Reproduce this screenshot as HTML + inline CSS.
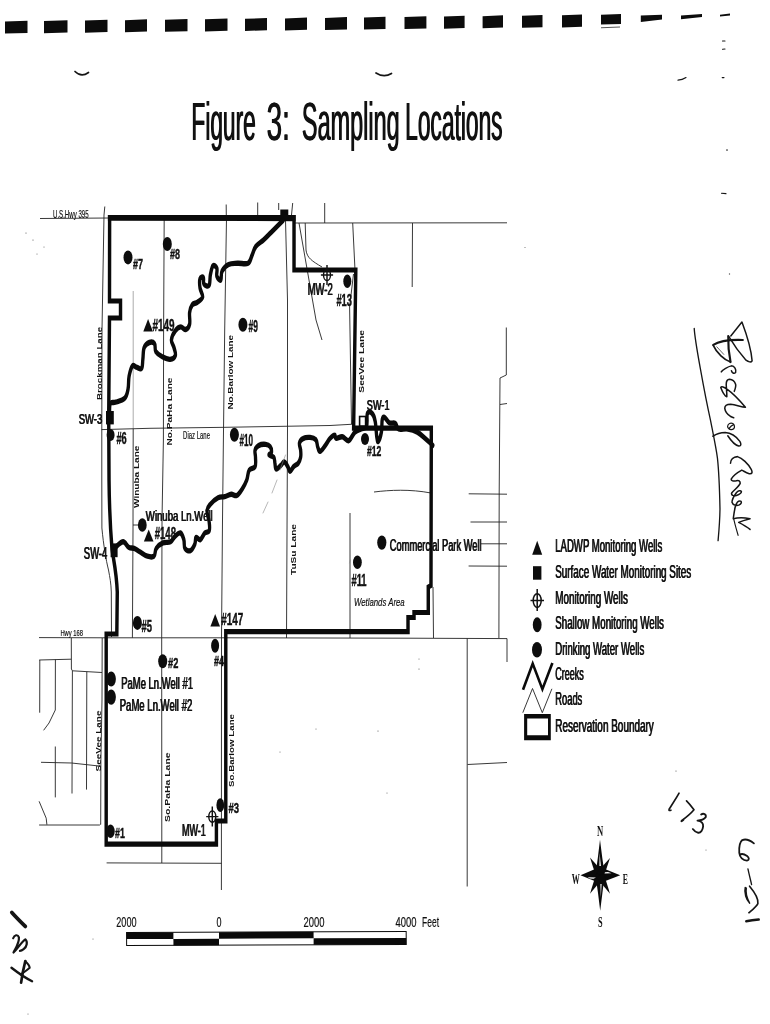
<!DOCTYPE html>
<html>
<head>
<meta charset="utf-8">
<title>Figure 3: Sampling Locations</title>
<style>
  html, body { margin: 0; padding: 0; background: #ffffff; }
  body { width: 770px; height: 1024px; overflow: hidden; font-family: "Liberation Sans", sans-serif; }
  svg { display: block; position: absolute; left: 0; top: 0; filter: grayscale(100%); }
  text { font-family: "Liberation Sans", sans-serif; fill: #111; }
  .ser { font-family: "Liberation Serif", serif; }
  .road { stroke: #222; stroke-width: 0.9; fill: none; }
  .faint { stroke: #777; stroke-width: 0.7; fill: none; }
  .bnd { stroke: #0a0a0a; stroke-width: 3.6; fill: none; stroke-linejoin: miter; }
  .creek { stroke: #0a0a0a; stroke-width: 5.4; fill: none; stroke-linejoin: round; stroke-linecap: round; }
  .hand { stroke: #151515; fill: none; stroke-linecap: round; stroke-linejoin: round; }
  .well { fill: #0d0d0d; }
  .lbl { font-weight: bold; stroke: #111; stroke-width: 0.45; }
  .lbn { stroke: #111; stroke-width: 0.2; }
  .rot { font-weight: bold; }
  .lbs { stroke: #111; stroke-width: 0.2; }
  .leg { stroke: #111; stroke-width: 0.15; }
</style>
</head>
<body>
<svg width="770" height="1024" viewBox="0 0 770 1024">
<rect x="0" y="0" width="770" height="1024" fill="#ffffff"/>

<!-- ===== top punched-dash strip ===== -->
<g id="dashes" fill="#0c0c0c">
  <path d="M5.0,21.5 L27.5,20.7 L27.5,33.0 L5.0,33.6 Z"/>
  <path d="M44.0,21.1 L67.5,20.2 L67.5,32.5 L44.0,33.2 Z"/>
  <path d="M85.0,20.6 L107.5,19.8 L107.5,32.1 L85.0,32.7 Z"/>
  <path d="M125.0,20.2 L147.0,19.3 L147.0,31.6 L125.0,32.3 Z"/>
  <path d="M165.0,19.7 L187.5,18.9 L187.5,31.2 L165.0,31.8 Z"/>
  <path d="M205.0,19.3 L227.5,18.4 L227.5,30.7 L205.0,31.4 Z"/>
  <path d="M245.0,18.8 L267.0,18.0 L267.0,30.3 L245.0,30.9 Z"/>
  <path d="M285.0,18.4 L307.0,17.5 L307.0,29.8 L285.0,30.5 Z"/>
  <path d="M325.0,17.9 L347.0,17.1 L347.0,29.4 L325.0,30.0 Z"/>
  <path d="M364.0,17.5 L385.5,16.7 L385.5,29.0 L364.0,29.6 Z"/>
  <path d="M404.5,17.0 L426.4,16.2 L426.4,28.5 L404.5,29.1 Z"/>
  <path d="M444.0,16.6 L464.6,15.8 L464.6,28.1 L444.0,28.7 Z"/>
  <path d="M482.6,16.2 L503.0,15.3 L503.0,27.6 L482.6,28.3 Z"/>
  <path d="M522.0,15.7 L542.5,14.9 L542.5,27.2 L522.0,27.8 Z"/>
  <path d="M562.0,15.3 L582.0,14.5 L582.0,26.8 L562.0,27.4 Z"/>
  <path d="M601.0,14.8 L621.0,14.0 L621.0,24.0 L601.0,24.6 Z"/>
  <path d="M640.8,15.6 L662,14.8 L662,19.5 L640.8,22 Z"/>
  <path d="M681,15.4 L702,14 L702,17 L681,19.2 Z"/>
  <path d="M720,14.8 L730,13.6 L730,15.4 L720,16.4 Z"/>
  <path d="M601,27.2 L620,26.6 L620,27.4 L601,28.2 Z" fill="#555"/>
</g>

<!-- ===== title ===== -->
<text class="ttl" x="191.00" y="140.4" font-size="53" textLength="64.4" lengthAdjust="spacingAndGlyphs">Figure</text>
<text class="ttl" x="191.75" y="140.4" font-size="53" textLength="64.4" lengthAdjust="spacingAndGlyphs">Figure</text>
<text class="ttl" x="266.20" y="140.4" font-size="53" textLength="23.2" lengthAdjust="spacingAndGlyphs">3:</text>
<text class="ttl" x="266.95" y="140.4" font-size="53" textLength="23.2" lengthAdjust="spacingAndGlyphs">3:</text>
<text class="ttl" x="301.60" y="140.4" font-size="53" textLength="97.6" lengthAdjust="spacingAndGlyphs">Sampling</text>
<text class="ttl" x="302.35" y="140.4" font-size="53" textLength="97.6" lengthAdjust="spacingAndGlyphs">Sampling</text>
<text class="ttl" x="404.80" y="140.4" font-size="53" textLength="97.4" lengthAdjust="spacingAndGlyphs">Locations</text>
<text class="ttl" x="405.55" y="140.4" font-size="53" textLength="97.4" lengthAdjust="spacingAndGlyphs">Locations</text>

<!-- MAPSTART -->
<!-- ===== thin roads ===== -->
<g id="roads" class="road">
  <!-- US Hwy 395 -->
  <path d="M40,218.5 L109,218"/>
  <path d="M295,223 L507,222.8"/>
  <!-- Brockman Lane / west road -->
  <path d="M104.8,206.5 L104,215 L102,330 L101.8,430 L101.8,480 L101.9,528 C103.5,545 106,560 108.5,570 C110,578 111,583 111.3,592 L111.5,637"/>
  <!-- stubs above hwy -->
  <path d="M257.7,202.5 L257.7,215"/>
  <path d="M226.2,204.5 L226.3,217"/>
  <path d="M278.7,203 L278.7,210"/>
  <path d="M292.7,203 L291.5,215"/>
  <path d="M324.7,203 L324.7,223"/>
  <!-- PaHa -->
  <path d="M164.2,218 L163.6,330 L163.4,440 L162,520 L161.7,637.8 L161.8,863"/>
  <!-- Winuba -->
  <path d="M133.2,291 L133.2,429" stroke="#888" stroke-width="0.7"/>
  <path d="M133.2,429 L133,530 L132.4,637.8"/>
  <path d="M133,525 L142,525"/>
  <!-- Barlow -->
  <path d="M226.5,218 L224.7,330 L223.4,440 L222.5,520 L221.5,637"/>
  <path d="M221.5,637 L221.4,890"/>
  <!-- TuSu -->
  <path d="M285.5,220 L287.5,300 L287.5,430 L286.5,638"/>
  <!-- Diaz Lane -->
  <path d="M101.5,429.6 L150,428.3 L226,427.3 L330,425.5 L353,424.2"/>
  <!-- east of notch -->
  <path d="M299,223 L316,320 L322,340"/>
  <path d="M305.2,223 L306,250 C307,258 312,261 322,267"/>
  <path d="M352.7,223 L355,270"/>
  <path d="M353.5,274 L349.6,307 L351.5,424"/>
  <path d="M412.5,223 L412.2,287"/>
  <!-- far east -->
  <path d="M506.3,327.5 L506.3,375 L500,378 L499.2,493 L498.9,638"/>
  <path d="M500,404.5 L507,403.5"/>
  <path d="M468.7,493.8 L507,494.2"/>
  <path d="M470.5,522 L507,522"/>
  <path d="M481,543.8 L507,543.8"/>
  <path d="M468.6,566 L507,566.2"/>
  <path d="M374,492 C390,490 410,489 431,493"/>
  <path d="M350,513 L350,638"/>
  <path d="M433,587 L433.5,638"/>
  <!-- Hwy 168 -->
  <path d="M39,637.6 L106,637.8 L226,637.8 L408,638.2 L507,638.6"/>
  <path d="M467.2,638.5 L467.2,886.5"/>
  <path d="M507,638.6 L507,662"/>
  <path d="M467.5,764.5 L507,762.5"/>
  <!-- south-west streets -->
  <path d="M102.2,638 L102,700 L100.9,760 L100.7,824.5"/>
  <path d="M71.3,638 L71.4,669 L72.4,670.8 L72,793.5"/>
  <path d="M39.2,660 L71.2,659.2"/>
  <path d="M39.8,660 L39.7,712.7"/>
  <path d="M55.4,659.6 L55.3,710 L49,723 L43.6,730.3"/>
  <path d="M55.3,746.5 L55.3,797.4"/>
  <path d="M72.4,670.8 L102,672.5"/>
  <path d="M86.8,671.8 L86.5,789.6"/>
  <path d="M41,762.3 L71.6,763 L100.6,766.2"/>
  <path d="M39.1,825 L99.5,825 L100.7,824"/>
  <path d="M39.1,801.3 L46.2,818.2 L46.9,824.7"/>
  <path d="M106.6,862.9 L221.5,863.3"/>
</g>

<g id="boundary">
<path d="M166.1,217.5 L445.5,217.5 L445.5,270.0 L539.1,270.0 L535.8,428.2 L653.5,428.2 L653.0,585.5 L648.9,587.0 L648.9,612.5 L627.3,612.5 L627.3,617.5 L618.2,617.5 L618.2,631.7 L342.1,631.7 L342.1,821.0 L327.9,821.0 L327.9,844.2 L160.9,844.2 L160.9,634.0 L177.0,634.0 L177.7,592.0 C176.5,572.0 172.0,560.0 169.7,549.0 C166.7,525.0 165.5,500.0 165.2,480.0 L164.7,416.0 L165.9,318.0 L182.6,318.0 L182.6,301.0 L165.9,301.0 Z" transform="scale(0.66,1)" stroke="#0a0a0a" stroke-width="5.2" fill="none" stroke-linejoin="miter"/>
<path d="M107.9,215.1 L295.5,215.1 L295.5,221.2 L107.9,220.7 Z" fill="#0a0a0a"/>
<rect x="280.3" y="209.5" width="8" height="9" fill="#0a0a0a"/>
</g>

<g id="creeks" transform="scale(0.62,1)">
<path class="creek" d="M456.6,220.4 C453.2,222.5 443.4,228.6 437.8,232.1 C432.1,235.6 429.7,237.3 425.2,239.9 C420.7,242.4 416.0,243.6 412.7,246.4 C409.3,249.2 408.6,252.4 406.4,255.5 C404.1,258.5 404.2,261.8 400.1,263.2 C395.9,264.6 389.0,263.0 383.3,263.2 C377.7,263.5 373.2,263.1 368.7,264.5 C364.1,265.9 360.5,268.2 358.2,271.0 C355.9,273.8 357.6,279.2 356.1,280.1 C354.6,281.1 350.9,278.3 349.8,276.2 C348.7,274.1 350.9,270.3 349.8,268.4 C348.7,266.6 345.4,264.7 343.5,265.8 C341.6,267.0 340.5,271.4 339.3,274.9 C338.2,278.4 339.1,283.7 337.2,285.3 C335.4,287.0 330.5,285.4 328.9,284.0 C327.2,282.6 329.2,278.5 328.0,277.5 C326.9,276.6 323.6,277.0 322.6,278.8 C321.6,280.7 321.8,284.6 322.6,287.9 C323.3,291.2 327.5,294.4 326.8,297.0 C326.0,299.6 321.4,300.8 318.4,302.2 C315.4,303.6 312.3,302.9 310.0,304.8 C307.8,306.7 306.6,309.1 305.8,312.6 C305.1,316.1 307.0,321.2 305.8,324.3 C304.7,327.3 302.2,329.0 299.5,329.5 C296.9,329.9 294.2,326.6 291.2,326.9 C288.1,327.1 285.4,328.4 282.8,330.8 C280.1,333.1 276.9,336.8 276.5,339.9 C276.1,342.9 279.6,344.9 280.7,347.7 C281.8,350.5 283.9,353.4 282.8,355.5 C281.7,357.6 278.2,359.1 274.4,359.4 C270.6,359.6 266.0,358.2 261.8,356.8 C257.7,355.4 253.6,353.9 251.4,351.6 C249.1,349.2 251.2,345.4 249.3,343.8 C247.4,342.1 243.9,341.8 240.9,342.5 C237.9,343.2 234.4,344.6 232.5,347.7 C230.6,350.7 231.2,355.6 230.4,359.4 C229.7,363.1 230.2,367.0 228.3,368.4 C226.4,369.8 222.6,367.6 219.9,367.1 C217.3,366.7 215.8,364.2 213.7,365.8 C211.5,367.5 209.5,372.0 208.2,376.2 C206.9,380.4 207.8,385.2 206.5,389.2 C205.3,393.2 204.7,396.0 201.1,398.3 C197.5,400.6 190.6,401.3 186.4,402.2 C182.3,403.1 179.8,401.6 178.0,403.5 C176.3,405.4 176.9,411.3 176.6,413.0"/>
<path class="creek" d="M186.1,547.3 C188.4,546.3 194.7,541.8 198.6,541.8 C202.4,541.8 204.3,546.1 207.5,547.3 C210.7,548.5 213.2,547.6 216.4,548.4 C219.6,549.2 221.4,550.4 225.3,551.7 C229.1,553.1 233.6,555.4 237.7,556.2 C241.9,557.0 245.9,557.5 248.4,556.2 C251.0,554.8 249.4,550.8 252.0,548.4 C254.5,546.0 258.5,544.1 262.7,542.9 C266.8,541.7 271.6,543.0 275.1,541.8 C278.6,540.6 279.4,537.9 282.2,536.3 C285.1,534.7 288.6,532.4 291.1,533.0 C293.7,533.6 295.2,536.8 296.5,539.6 C297.8,542.4 296.3,546.4 298.3,548.4 C300.2,550.4 304.3,551.4 307.2,550.6 C310.0,549.8 312.7,546.4 314.3,544.0 C315.9,541.6 314.5,538.2 316.1,537.4 C317.7,536.6 320.6,540.4 323.2,539.6 C325.7,538.8 327.7,534.6 330.3,533.0 C332.9,531.4 336.1,532.8 337.4,530.8 C338.7,528.8 338.1,525.5 337.4,521.9 C336.8,518.4 333.5,514.1 333.9,510.9 C334.2,507.7 336.0,506.7 339.2,504.3 C342.4,501.9 347.5,499.1 351.7,497.7 C355.8,496.3 358.5,497.2 362.4,496.6 C366.2,496.0 369.5,494.5 373.0,494.3 C376.6,494.2 378.7,496.4 381.9,495.5 C385.1,494.5 388.0,491.6 390.8,488.8 C393.7,486.0 396.0,483.4 398.0,480.0 C400.0,476.6 399.5,472.5 402.0,470.1 C404.4,467.7 409.6,468.9 411.4,466.6 C413.2,464.3 412.1,460.2 412.1,457.3 C412.1,454.3 410.5,452.4 411.4,450.3 C412.3,448.2 414.0,446.6 417.0,445.6 C420.1,444.5 425.0,444.2 428.4,444.4 C431.8,444.6 434.2,445.3 435.9,446.8 C437.6,448.2 438.1,451.1 437.8,452.6 C437.4,454.1 433.3,454.1 434.0,454.9 C434.7,455.8 439.9,455.8 441.6,457.3 C443.3,458.7 442.8,461.0 443.4,463.1 C444.1,465.2 443.6,468.5 445.3,469.0 C447.0,469.4 450.5,466.7 452.9,465.5 C455.2,464.2 456.5,461.7 458.5,461.9 C460.6,462.2 462.5,464.9 464.2,466.6 C465.9,468.3 466.2,471.3 467.9,471.3 C469.6,471.3 471.2,468.1 473.6,466.6 C476.0,465.1 479.1,464.8 481.1,463.1 C483.2,461.4 484.2,459.6 484.9,457.3 C485.6,455.0 485.3,452.8 484.9,450.3 C484.6,447.7 482.3,445.3 483.0,443.2 C483.7,441.1 485.6,439.6 488.7,438.6 C491.7,437.5 496.3,437.2 500.0,437.4 C503.7,437.6 507.2,438.1 509.4,439.7 C511.7,441.4 511.2,444.6 512.4,446.8 C513.7,448.9 514.0,451.6 516.2,451.4 C518.4,451.2 521.6,447.9 524.5,445.6 C527.3,443.3 529.3,440.5 532.0,438.6 C534.8,436.7 537.7,435.1 539.6,435.1 C541.4,435.0 540.0,438.0 542.3,438.3 C544.6,438.6 548.7,436.3 552.4,436.8 C556.0,437.2 558.8,441.5 562.4,440.6 C566.0,439.8 568.9,434.2 572.5,432.1 C576.1,430.0 579.1,430.1 582.5,429.0 C585.9,427.8 589.5,428.6 591.3,425.8 C593.1,423.0 591.0,415.6 592.6,413.4 C594.2,411.1 597.9,412.0 600.1,413.4 C602.4,414.8 603.8,417.0 605.1,421.2 C606.5,425.4 606.8,433.1 607.7,436.8 C608.6,440.4 608.8,442.3 610.2,441.4 C611.5,440.6 614.1,436.0 615.2,432.1 C616.3,428.1 615.6,422.3 616.5,419.6 C617.4,416.9 618.2,416.7 620.2,417.3 C622.3,417.8 624.6,421.6 627.8,422.7 C630.9,423.8 635.1,422.4 637.8,423.5 C640.5,424.6 639.2,428.0 642.9,429.0 C646.5,429.9 652.5,428.4 657.9,429.0 C663.4,429.5 668.0,430.4 673.0,432.1 C678.0,433.8 681.1,435.9 685.6,438.3 C690.1,440.7 695.9,444.1 698.1,445.3"/>
</g>

<g id="wells">
<ellipse class="well" cx="128.0" cy="257.4" rx="4.5" ry="7.0"/>
<text class="lbl" x="133.0" y="269.0" font-size="15.4" textLength="10.0" lengthAdjust="spacingAndGlyphs">#7</text>
<ellipse class="well" cx="167.3" cy="244.0" rx="4.5" ry="7.0"/>
<text class="lbl" x="170.0" y="259.0" font-size="15.4" textLength="10.0" lengthAdjust="spacingAndGlyphs">#8</text>
<path class="well" d="M148.1,319.0 L152.9,331.5 L143.3,331.5 Z"/>
<text class="lbl" x="152.5" y="330.7" font-size="16.3" textLength="22.1" lengthAdjust="spacingAndGlyphs">#149</text>
<ellipse class="well" cx="242.9" cy="324.8" rx="4.5" ry="7.0"/>
<text class="lbl" x="248.6" y="331.6" font-size="15.6" textLength="9.4" lengthAdjust="spacingAndGlyphs">#9</text>
<g stroke="#111" stroke-width="1.45" fill="none"><ellipse cx="327.0" cy="275.0" rx="3.5" ry="5.6"/><path d="M320.9,275.0 L333.1,275.0 M327.0,265.0 L327.0,285.0"/></g>
<text class="lbn" x="307.5" y="294.7" font-size="15.6" textLength="25.0" lengthAdjust="spacingAndGlyphs">MW-2</text>
<text class="lbn" x="308.00" y="294.7" font-size="15.6" textLength="25.0" lengthAdjust="spacingAndGlyphs">MW-2</text>
<ellipse class="well" cx="347.3" cy="281.2" rx="4.0" ry="6.8"/>
<text class="lbl" x="336.4" y="306.0" font-size="16.2" textLength="15.6" lengthAdjust="spacingAndGlyphs">#13</text>
<rect x="359.6" y="416.5" width="6" height="9.5" fill="#fff" stroke="#0a0a0a" stroke-width="1.6"/>
<text class="lbn" x="366.6" y="410.3" font-size="15.4" textLength="22.6" lengthAdjust="spacingAndGlyphs">SW-1</text>
<text class="lbn" x="367.10" y="410.3" font-size="15.4" textLength="22.6" lengthAdjust="spacingAndGlyphs">SW-1</text>
<ellipse class="well" cx="365.0" cy="439.0" rx="4.0" ry="6.0"/>
<text class="lbl" x="367.0" y="455.5" font-size="15.4" textLength="14.4" lengthAdjust="spacingAndGlyphs">#12</text>
<rect x="106" y="411" width="7.8" height="13.4" fill="#0a0a0a"/>
<text class="lbn" x="78.4" y="424.4" font-size="15.2" textLength="23.6" lengthAdjust="spacingAndGlyphs">SW-3</text>
<text class="lbn" x="78.90" y="424.4" font-size="15.2" textLength="23.6" lengthAdjust="spacingAndGlyphs">SW-3</text>
<ellipse class="well" cx="110.6" cy="434.9" rx="4.0" ry="6.0"/>
<text class="lbl" x="116.4" y="444.2" font-size="15.6" textLength="10.3" lengthAdjust="spacingAndGlyphs">#6</text>
<ellipse class="well" cx="234.4" cy="434.8" rx="4.5" ry="7.0"/>
<text class="lbl" x="239.5" y="445.6" font-size="16.5" textLength="13.5" lengthAdjust="spacingAndGlyphs">#10</text>
<ellipse class="well" cx="142.3" cy="525.0" rx="4.4" ry="6.8"/>
<text class="lbn" x="145.6" y="520.8" font-size="15.4" textLength="66.9" lengthAdjust="spacingAndGlyphs">Winuba Ln.Well</text>
<text class="lbn" x="146.10" y="520.8" font-size="15.4" textLength="66.9" lengthAdjust="spacingAndGlyphs">Winuba Ln.Well</text>
<path class="well" d="M148.7,529.5 L153.5,541.6 L143.9,541.6 Z"/>
<text class="lbl" x="154.7" y="539.0" font-size="16.1" textLength="21.3" lengthAdjust="spacingAndGlyphs">#148</text>
<rect x="110.6" y="543.4" width="7" height="13.8" fill="#0a0a0a"/>
<text class="lbn" x="83.6" y="559.0" font-size="16.5" textLength="23.4" lengthAdjust="spacingAndGlyphs">SW-4</text>
<text class="lbn" x="84.10" y="559.0" font-size="16.5" textLength="23.4" lengthAdjust="spacingAndGlyphs">SW-4</text>
<ellipse class="well" cx="137.4" cy="622.9" rx="4.5" ry="7.0"/>
<text class="lbl" x="141.5" y="632.2" font-size="15.9" textLength="10.5" lengthAdjust="spacingAndGlyphs">#5</text>
<path class="well" d="M215.2,614.0 L220.0,626.6 L210.4,626.6 Z"/>
<text class="lbl" x="221.3" y="625.0" font-size="16.1" textLength="22.0" lengthAdjust="spacingAndGlyphs">#147</text>
<ellipse class="well" cx="215.1" cy="645.7" rx="4.0" ry="7.0"/>
<text class="lbl" x="214.0" y="665.5" font-size="15.5" textLength="10.0" lengthAdjust="spacingAndGlyphs">#4</text>
<ellipse class="well" cx="162.7" cy="661.3" rx="4.5" ry="7.0"/>
<text class="lbl" x="168.0" y="667.5" font-size="15.4" textLength="10.3" lengthAdjust="spacingAndGlyphs">#2</text>
<ellipse class="well" cx="111.2" cy="679.0" rx="4.7" ry="7.6"/>
<text class="lbn" x="121.0" y="689.3" font-size="16.6" textLength="71.8" lengthAdjust="spacingAndGlyphs">PaMe Ln.Well #1</text>
<text class="lbn" x="121.50" y="689.3" font-size="16.6" textLength="71.8" lengthAdjust="spacingAndGlyphs">PaMe Ln.Well #1</text>
<ellipse class="well" cx="111.2" cy="697.1" rx="4.7" ry="7.6"/>
<text class="lbn" x="119.5" y="711.2" font-size="16.5" textLength="72.5" lengthAdjust="spacingAndGlyphs">PaMe Ln.Well #2</text>
<text class="lbn" x="120.00" y="711.2" font-size="16.5" textLength="72.5" lengthAdjust="spacingAndGlyphs">PaMe Ln.Well #2</text>
<ellipse class="well" cx="110.5" cy="831.2" rx="4.2" ry="6.8"/>
<text class="lbl" x="115.0" y="838.3" font-size="15.5" textLength="9.8" lengthAdjust="spacingAndGlyphs">#1</text>
<g stroke="#111" stroke-width="1.45" fill="none"><ellipse cx="212.3" cy="816.6" rx="3.5" ry="5.6"/><path d="M206.2,816.6 L218.4,816.6 M212.3,806.6 L212.3,826.6"/></g>
<text class="lbn" x="181.7" y="835.5" font-size="16.3" textLength="23.9" lengthAdjust="spacingAndGlyphs">MW-1</text>
<text class="lbn" x="182.20" y="835.5" font-size="16.3" textLength="23.9" lengthAdjust="spacingAndGlyphs">MW-1</text>
<ellipse class="well" cx="220.3" cy="805.1" rx="3.9" ry="6.9"/>
<text class="lbl" x="228.4" y="813.3" font-size="15.5" textLength="10.6" lengthAdjust="spacingAndGlyphs">#3</text>
<ellipse class="well" cx="357.4" cy="562.2" rx="4.4" ry="6.8"/>
<text class="lbl" x="351.4" y="585.8" font-size="16.5" textLength="15.2" lengthAdjust="spacingAndGlyphs">#11</text>
<ellipse class="well" cx="381.8" cy="542.6" rx="4.6" ry="7.2"/>
<text class="lbn" x="389.5" y="551.0" font-size="16.8" textLength="91.9" lengthAdjust="spacingAndGlyphs">Commercial Park Well</text>
<text class="lbn" x="390.00" y="551.0" font-size="16.8" textLength="91.9" lengthAdjust="spacingAndGlyphs">Commercial Park Well</text>
</g>
<g id="roadlabels">
<text class="lbs" x="53.0" y="217.9" font-size="11.0" textLength="35.6" lengthAdjust="spacingAndGlyphs">U.S.Hwy 395</text>
<text class="lbs" x="183.1" y="438.7" font-size="10.5" textLength="26.9" lengthAdjust="spacingAndGlyphs">Diaz Lane</text>
<text class="lbs" x="60.4" y="635.8" font-size="9.1" textLength="22.6" lengthAdjust="spacingAndGlyphs">Hwy 168</text>
<text class="lbs" x="354.0" y="605.6" font-size="11.2" textLength="50.7" lengthAdjust="spacingAndGlyphs" font-style="italic">Wetlands Area</text>
<text class="rot" font-size="7.0" transform="translate(102.3,400.0) rotate(-90)" textLength="73.2" lengthAdjust="spacingAndGlyphs">Brockman Lane</text>
<text class="rot" font-size="7.0" transform="translate(171.8,445.6) rotate(-90)" textLength="68.1" lengthAdjust="spacingAndGlyphs">No.PaHa Lane</text>
<text class="rot" font-size="7.0" transform="translate(232.9,409.6) rotate(-90)" textLength="74.6" lengthAdjust="spacingAndGlyphs">No.Barlow Lane</text>
<text class="rot" font-size="7.0" transform="translate(364.3,392.7) rotate(-90)" textLength="62.7" lengthAdjust="spacingAndGlyphs">SeeVee Lane</text>
<text class="rot" font-size="7.0" transform="translate(138.9,508.0) rotate(-90)" textLength="62.4" lengthAdjust="spacingAndGlyphs">Winuba Lane</text>
<text class="rot" font-size="7.0" transform="translate(295.5,575.0) rotate(-90)" textLength="51.0" lengthAdjust="spacingAndGlyphs">TuSu Lane</text>
<text class="rot" font-size="7.0" transform="translate(101.2,771.4) rotate(-90)" textLength="60.9" lengthAdjust="spacingAndGlyphs">SeeVee Lane</text>
<text class="rot" font-size="7.0" transform="translate(170.0,822.0) rotate(-90)" textLength="69.6" lengthAdjust="spacingAndGlyphs">So.PaHa Lane</text>
<text class="rot" font-size="7.0" transform="translate(234.3,787.0) rotate(-90)" textLength="73.0" lengthAdjust="spacingAndGlyphs">So.Barlow Lane</text>
</g>

<g id="legend">
<path class="well" d="M537.2,540.7 L542.2,554.8 L532.2,554.8 Z"/>
<rect class="well" x="533" y="566.2" width="8.4" height="13.5"/>
<g stroke="#111" stroke-width="1.5" fill="none"><ellipse cx="537.2" cy="600.6" rx="4" ry="6.9"/><path d="M530.5,600.6 L544,600.6 M537.2,589 L537.2,611"/></g>
<ellipse class="well" cx="537.2" cy="624.7" rx="4.4" ry="7.5"/>
<ellipse class="well" cx="537" cy="649.8" rx="5" ry="7.8"/>
<path d="M523,689.8 L532.7,663.6 L542.4,689.2 L552.4,663" stroke="#0a0a0a" stroke-width="2.6" fill="none" stroke-linejoin="miter"/>
<path d="M522.8,712.7 L532.5,688.5 L542.3,712.7 L551.9,688.8" stroke="#222" stroke-width="0.9" fill="none"/>
<path fill="#0a0a0a" fill-rule="evenodd" d="M524.1,714 L550.8,714 L550.8,740.2 L524.1,740.2 Z M527.2,718.4 L527.2,735.2 L548,735.2 L548,718.4 Z"/>
<text class="leg" x="555.0" y="552.4" font-size="18.2" textLength="107.0" lengthAdjust="spacingAndGlyphs">LADWP Monitoring Wells</text>
<text class="leg" x="555.50" y="552.4" font-size="18.2" textLength="107.0" lengthAdjust="spacingAndGlyphs">LADWP Monitoring Wells</text>
<text class="leg" x="555.0" y="578.4" font-size="18.2" textLength="136.0" lengthAdjust="spacingAndGlyphs">Surface Water Monitoring Sites</text>
<text class="leg" x="555.50" y="578.4" font-size="18.2" textLength="136.0" lengthAdjust="spacingAndGlyphs">Surface Water Monitoring Sites</text>
<text class="leg" x="555.0" y="604.4" font-size="18.2" textLength="72.6" lengthAdjust="spacingAndGlyphs">Monitoring Wells</text>
<text class="leg" x="555.50" y="604.4" font-size="18.2" textLength="72.6" lengthAdjust="spacingAndGlyphs">Monitoring Wells</text>
<text class="leg" x="555.0" y="628.9" font-size="18.2" textLength="108.7" lengthAdjust="spacingAndGlyphs">Shallow Monitoring Wells</text>
<text class="leg" x="555.50" y="628.9" font-size="18.2" textLength="108.7" lengthAdjust="spacingAndGlyphs">Shallow Monitoring Wells</text>
<text class="leg" x="555.0" y="654.9" font-size="18.2" textLength="89.0" lengthAdjust="spacingAndGlyphs">Drinking Water Wells</text>
<text class="leg" x="555.50" y="654.9" font-size="18.2" textLength="89.0" lengthAdjust="spacingAndGlyphs">Drinking Water Wells</text>
<text class="leg" x="555.0" y="680.4" font-size="18.2" textLength="28.6" lengthAdjust="spacingAndGlyphs">Creeks</text>
<text class="leg" x="555.50" y="680.4" font-size="18.2" textLength="28.6" lengthAdjust="spacingAndGlyphs">Creeks</text>
<text class="leg" x="555.0" y="705.4" font-size="18.2" textLength="27.0" lengthAdjust="spacingAndGlyphs">Roads</text>
<text class="leg" x="555.50" y="705.4" font-size="18.2" textLength="27.0" lengthAdjust="spacingAndGlyphs">Roads</text>
<text class="leg" x="555.0" y="732.4" font-size="18.2" textLength="98.6" lengthAdjust="spacingAndGlyphs">Reservation Boundary</text>
<text class="leg" x="555.50" y="732.4" font-size="18.2" textLength="98.6" lengthAdjust="spacingAndGlyphs">Reservation Boundary</text>
</g>
<g id="compass">
<path fill="#0a0a0a" d="M600,839.8 L602.3,858 L604.2,871 L604.2,879 L602.4,893 L600.2,910.8 L598,893 L596,879 L596,871 L597.8,858 Z"/>
<path fill="#0a0a0a" d="M580.5,875.2 L594,869.6 L606,869.6 L620.2,875.2 L606,880.8 L594,880.8 Z"/>
<path fill="#0a0a0a" d="M590.0,857.4 L603.7,873.1 L596.3,877.3 Z"/>
<path fill="#0a0a0a" d="M610.0,858.0 L603.6,877.3 L596.4,873.1 Z"/>
<path fill="#0a0a0a" d="M590.0,893.8 L596.3,873.2 L603.7,877.2 Z"/>
<path fill="#0a0a0a" d="M610.0,893.8 L596.3,877.2 L603.7,873.2 Z"/>
<path fill="#fff" d="M604.5,873.6 L611.5,873.2 L608,872 L605,872.2 Z"/>
<path fill="#fff" d="M587.5,877.2 L596,877.4 L593.5,878.8 L590,878.4 Z"/>
<path fill="#fff" d="M599.6,853 L600.9,866 L599.4,866 Z"/>
<path fill="#fff" d="M600.4,884 L601.6,884 L600.8,898 Z"/>
<text class="ser" x="596.9" y="836.3" font-size="14.6" font-weight="bold" textLength="6.2" lengthAdjust="spacingAndGlyphs">N</text>
<text class="ser" x="597.9" y="926.8" font-size="14.6" font-weight="bold" textLength="4.6" lengthAdjust="spacingAndGlyphs">S</text>
<text class="ser" x="571.7" y="883.6" font-size="14.6" font-weight="bold" textLength="8.1" lengthAdjust="spacingAndGlyphs">W</text>
<text class="ser" x="622.8" y="884.2" font-size="14.6" font-weight="bold" textLength="5.2" lengthAdjust="spacingAndGlyphs">E</text>
</g>
<g id="scalebar" transform="rotate(-0.25 266 938)">
<rect x="126.6" y="932" width="279.6" height="13" fill="#fff" stroke="#0a0a0a" stroke-width="1"/>
<rect x="126.6" y="932.0" width="46.8" height="6.5" fill="#0a0a0a"/>
<rect x="173.4" y="938.5" width="45.6" height="6.5" fill="#0a0a0a"/>
<rect x="219.0" y="932.0" width="94.6" height="6.5" fill="#0a0a0a"/>
<rect x="313.6" y="938.5" width="92.6" height="6.5" fill="#0a0a0a"/>
</g>
<text class="lbn" x="116.3" y="926.6" font-size="14" textLength="20.3" lengthAdjust="spacingAndGlyphs">2000</text>
<text class="lbn" x="216.5" y="926.6" font-size="14" textLength="5.0" lengthAdjust="spacingAndGlyphs">0</text>
<text class="lbn" x="303.5" y="926.6" font-size="14" textLength="21.0" lengthAdjust="spacingAndGlyphs">2000</text>
<text class="lbn" x="395.5" y="926.6" font-size="14" textLength="21.0" lengthAdjust="spacingAndGlyphs">4000</text>
<text class="lbn" x="422.0" y="926.6" font-size="14" textLength="17.0" lengthAdjust="spacingAndGlyphs">Feet</text>

<!-- ===== handwriting ===== -->
<g id="hw-bishop" class="hand" transform="translate(680,310) scale(0.12694)" stroke-width="11.7">
  <!-- underline -->
  <path d="M112,145 C115,200 140,350 160,460 C185,600 225,800 240,867 C262,980 285,1090 295,1167 C305,1260 312,1420 315,1567 C314,1650 306,1750 300,1817" stroke-width="10.4"/>
  <!-- B -->
  <path d="M262,275 C300,250 380,232 495,236" stroke-width="16.9"/>
  <path d="M400,205 L488,95 C520,180 560,300 568,400 C560,415 540,410 520,395 C470,340 420,270 385,210" stroke-width="11.7"/>
  <path d="M380,205 C378,280 388,360 398,410" stroke-width="16.9"/>
  <path d="M262,278 C290,340 350,395 398,410" stroke-width="13.0"/>
  <path d="M290,290 L345,350" stroke-width="5.2"/>
  <!-- i -->
  <path d="M325,488 C335,470 380,445 405,440 C430,440 445,470 438,492 C425,505 408,495 405,478"/>
</g>
<g id="hw-shop" class="hand" transform="translate(705,365) scale(0.073206)" stroke-width="21">
  <path d="M400,360 C415,320 425,285 418,262 C405,225 370,198 335,195 C305,198 290,225 290,262 C290,310 300,380 298,435 C270,425 235,360 215,308 C225,285 260,300 300,330 C350,365 470,480 552,577 C500,572 420,545 350,537 C300,538 270,560 270,592 C275,630 310,675 345,700 C360,710 378,716 392,720"/>
  <path d="M310,832 C315,800 350,785 380,800 C405,815 410,850 392,872 C370,890 335,885 318,862 C308,848 306,840 310,832 Z M335,860 C350,840 370,825 390,815" stroke-width="17"/>
</g>
<g id="hw-creek" class="hand" transform="translate(710,425) scale(0.117096)" stroke-width="13">
  <path d="M25,96 C50,80 95,66 130,65 C175,68 225,100 255,140 C270,165 265,182 245,180 C215,172 180,135 152,92"/>
  <path d="M175,326 C175,295 200,272 235,270 C275,282 325,330 352,378 C365,405 360,420 335,416 C310,410 290,395 272,385 C235,405 200,430 182,460 C178,478 200,482 225,476 C245,468 258,480 258,498 C250,525 205,555 185,580 C180,600 200,610 225,602 C250,592 270,582 268,568 C262,555 240,560 225,578 C205,605 188,635 188,660 C195,685 225,692 250,682 C268,672 272,658 262,650 C245,645 228,662 218,690 C210,720 204,760 200,790"/>
  <path d="M200,790 C210,840 225,890 240,942" stroke-width="10"/>
  <path d="M198,800 C240,790 300,792 342,800 C310,808 270,820 245,832 C280,850 315,870 342,892"/>
</g>
<g id="hw-173" class="hand" transform="translate(650,770) scale(0.16598)" stroke-width="10">
  <path d="M175,140 C165,160 135,205 115,236 C112,244 118,246 126,242"/>
  <path d="M220,186 C232,198 252,222 265,240 C250,258 215,288 190,306 C186,312 192,310 202,300"/>
  <path d="M308,268 C322,258 340,266 336,284 C325,298 300,304 286,305 C305,308 322,318 320,340 C318,362 305,380 290,378 C275,376 265,366 258,356" stroke-width="11"/>
</g>
<g id="hw-621" class="hand" transform="translate(650,770) scale(0.16598)" stroke-width="10">
  <path d="M626,442 C605,425 575,415 556,422 C540,435 536,470 538,500 C540,525 560,545 584,546 C600,542 598,528 585,518 C570,508 552,500 542,512" stroke-width="11"/>
  <path d="M590,596 C595,620 605,660 612,690" stroke-width="8"/>
  <path d="M574,708 C566,740 580,780 600,802 C584,772 574,742 580,712 Z" stroke-width="9"/>
  <path d="M600,700 C625,730 655,775 650,805 C640,825 620,840 596,860" stroke-width="10"/>
  <path d="M580,911 C600,908 630,904 655,901" stroke-width="15"/>
</g>
<g id="hw-124" class="hand" transform="translate(0,880) scale(0.16883)">
  <path d="M70,192 C90,215 125,250 150,275" stroke-width="22"/>
  <path d="M78,345 C85,325 105,320 112,340 C115,370 95,400 80,430 C100,410 130,365 150,352 C165,365 160,395 140,410 C130,418 122,420 118,420" stroke-width="13"/>
  <path d="M68,520 C100,545 150,580 190,600" stroke-width="14"/>
  <path d="M150,480 C140,520 130,570 125,608" stroke-width="16"/>
  <path d="M150,482 C165,495 175,510 176,520 C160,535 140,548 122,560" stroke-width="12"/>
</g>
<!-- small scan marks -->
<g id="marks" class="hand" stroke-width="1.7">
  <path d="M75,71.5 C79,75.5 84,75.8 88.5,72.5"/>
  <path d="M376,73 C381,76.2 387,76.2 391.5,73.5"/>
  <path d="M678,80.2 C681,80.2 684,79 686,77.6" stroke-width="1.2"/>
  <path d="M721.5,193.3 L726,193.6" stroke-width="1.1"/>
  <path d="M722.5,41 L725,41 M722.5,49.2 L725,49 M722.2,77.6 L724,77.6 M726.5,150 L727.5,150" stroke-width="1.1"/>
  <g fill="#555" stroke="none">
    <circle cx="26" cy="233" r="0.6"/><circle cx="33" cy="240" r="0.6"/><circle cx="44" cy="247" r="0.5"/><circle cx="37" cy="254" r="0.5"/>
    <circle cx="729.5" cy="274" r="0.7"/><circle cx="525" cy="247.5" r="0.5"/><circle cx="316" cy="729" r="0.5"/><circle cx="378" cy="731" r="0.6"/>
    <circle cx="280" cy="752" r="0.5"/><circle cx="419" cy="659" r="0.5"/><circle cx="419" cy="669" r="0.6"/><circle cx="387" cy="793" r="0.5"/>
    <circle cx="93" cy="939" r="0.5"/><circle cx="28" cy="1014" r="0.5"/><circle cx="676" cy="771" r="0.6"/><circle cx="706" cy="850" r="0.5"/>
  </g>
  <path d="M285.5,455 L280,470 M277,480 L272,493 M268,502 L263,513 M350.5,560 L349.5,563" stroke="#888" stroke-width="0.6"/>
</g>

<!-- MAPEND -->
</svg>
</body>
</html>
